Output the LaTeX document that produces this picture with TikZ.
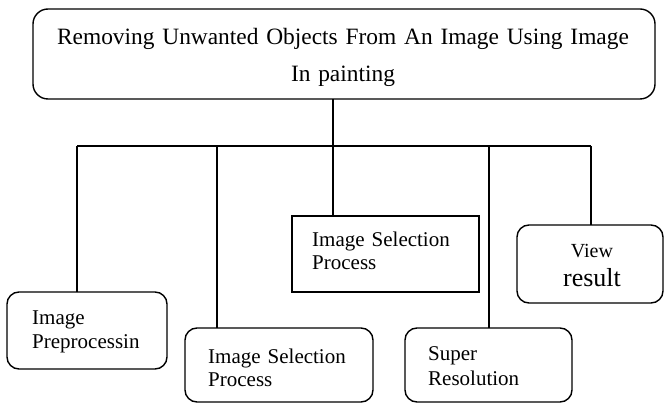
\documentclass[tikz,border=0pt]{standalone}
\usepackage{fontspec}
\setmainfont{Liberation Serif}
\begin{document}
\begin{tikzpicture}[x=1pt,y=-1pt,
  box/.style={draw, line width=1.4pt, rounded corners=12pt, inner sep=0pt, outer sep=0pt},
  sbox/.style={draw, line width=1.4pt, inner sep=0pt, outer sep=0pt},
  lbl/.style={inner sep=0pt, anchor=base west, align=left, text width=170pt, font=\fontsize{21}{24}\selectfont},
  conn/.style={line width=1.4pt}]
\useasboundingbox (0,0) rectangle (664,403);
% boxes
\node[box, rounded corners=15pt, minimum width=622pt, minimum height=90pt] (top) at (344,54) {};
\node[box, minimum width=160pt, minimum height=77pt] (pre) at (87,330.5) {};
\node[box, minimum width=188pt, minimum height=74pt] (sel) at (279,365) {};
\node[sbox, minimum width=187pt, minimum height=76pt] (mid) at (385.5,254) {};
\node[box, minimum width=167pt, minimum height=74pt] (sup) at (488.5,365) {};
\node[box, minimum width=146pt, minimum height=78pt] (view) at (590,264) {};
% texts
\node[inner sep=0pt, anchor=base, align=center, text width=640pt, font=\fontsize{23.4}{37}\selectfont] (topT) at (343,45) {Removing Unwanted Objects From An Image Using Image\\In painting};
\node[lbl] (preT) at (32,325) {Image\\Preprocessin};
\node[lbl, font=\fontsize{21}{23}\selectfont] (selT) at (208,363) {Image Selection\\Process};
\node[lbl, font=\fontsize{21}{23}\selectfont] (midT) at (312,247) {Image Selection\\Process};
\node[lbl, font=\fontsize{21}{25}\selectfont] (supT) at (428,360) {Super\\Resolution};
\node[inner sep=0pt, anchor=base, font=\fontsize{20}{24}\selectfont] (viewA) at (592,258) {View};
\node[inner sep=0pt, anchor=base, font=\fontsize{26}{30}\selectfont] (viewB) at (592,287) {result};
% bus coordinates
\coordinate (b1) at (77,146);
\coordinate (b2) at (217,146);
\coordinate (b3) at (333,146);
\coordinate (b4) at (489,146);
\coordinate (b5) at (591,146);
% connectors
\draw[conn] (top.south -| b3) -- (b3);
\draw[conn] (b1) -- (b5);
\draw[conn] (b1) -- (pre.north -| b1);
\draw[conn] (b2) -- (sel.north -| b2);
\draw[conn] (b3) -- (mid.north -| b3);
\draw[conn] (b4) -- (sup.north -| b4);
\draw[conn] (b5) -- (view.north -| b5);
\end{tikzpicture}
\end{document}
